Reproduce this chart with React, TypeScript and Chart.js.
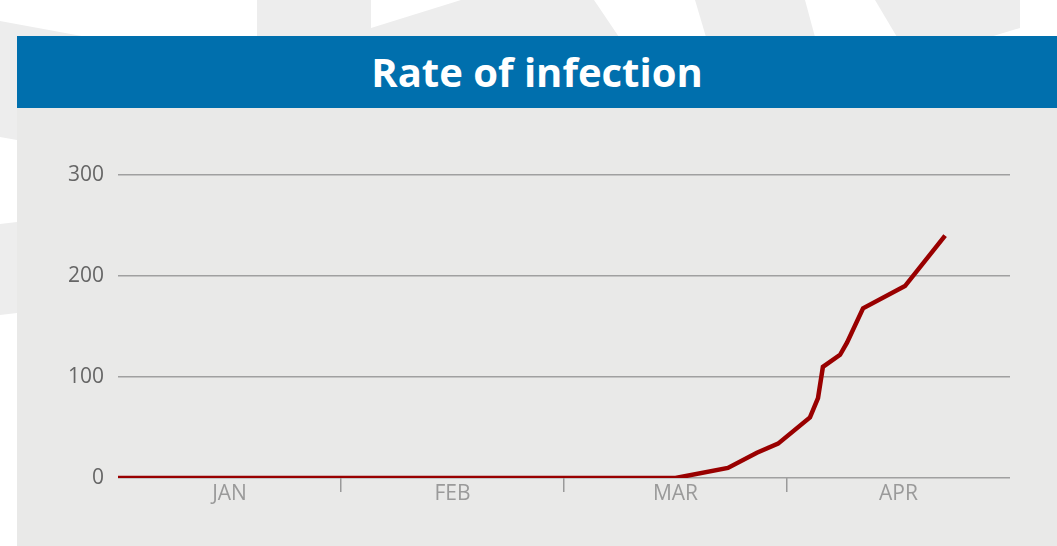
import React, { useEffect, useRef } from "react";
import { Chart, registerables } from "chart.js";

Chart.register(...registerables);

const title = "Rate of infection";
const months = ["JAN", "FEB", "MAR", "APR"];
const yTickValues = [0, 100, 200, 300];
// position along the time axis, in months from 1 January
const timePositions = [0, 2.5, 2.735, 2.865, 2.96, 3.103, 3.139, 3.161, 3.238, 3.269, 3.341, 3.529, 3.709];
const infections = [0, 0, 10, 25, 34, 60, 79, 110, 122, 134, 168, 190, 240];

const FONT = "'Open Sans', 'Noto Sans', sans-serif";

export default function App() {
  const canvasRef = useRef<HTMLCanvasElement | null>(null);

  useEffect(() => {
    const canvas = canvasRef.current;
    if (!canvas) return;
    const chart = new Chart(canvas, {
      type: "line",
      data: {
        labels: months,
        datasets: [
          {
            label: title,
            data: timePositions.map((x, i) => ({ x, y: infections[i] })),
            xAxisID: "xd",
            yAxisID: "y",
            borderColor: "#990000",
            borderWidth: 4.5,
            pointRadius: 0,
            tension: 0,
            fill: false,
          },
        ],
      },
      options: {
        animation: false,
        responsive: true,
        maintainAspectRatio: false,
        layout: { padding: { top: 67, right: 47, bottom: 0, left: 0 } },
        plugins: { legend: { display: false }, tooltip: { enabled: false }, title: { display: false } },
        scales: {
          x: {
            type: "category",
            labels: months,
            offset: true,
            position: "bottom",
            border: { display: false },
            grid: {
              offset: true,
              drawOnChartArea: false,
              drawTicks: true,
              tickLength: 14,
              lineWidth: 1.5,
              color: (ctx: any) =>
                ctx.type !== "tick" || ctx.index === 0 || ctx.index === undefined || ctx.index >= months.length
                  ? "rgba(0,0,0,0)"
                  : "#9a9a9a",
            },
            ticks: {
              color: "#9a9a9a",
              font: { family: FONT, size: 21 },
              padding: -11,
              maxRotation: 0,
            },
            afterFit: (axis: any) => {
              axis.height = 68;
            },
          },
          xd: {
            type: "linear",
            min: 0,
            max: months.length,
            display: false,
          },
          y: {
            type: "linear",
            min: yTickValues[0],
            max: yTickValues[yTickValues.length - 1],
            border: { display: false },
            afterBuildTicks: (axis: any) => {
              axis.ticks = yTickValues.map((v) => ({ value: v }));
            },
            grid: {
              drawTicks: false,
              color: "#a0a0a0",
              lineWidth: 1.5,
            },
            ticks: {
              color: "#666666",
              font: { family: FONT, size: 21 },
              padding: 14,
            },
            afterFit: (axis: any) => {
              axis.width = 101;
            },
          },
        },
      },
    });
    return () => chart.destroy();
  }, []);

  const wm = "#ededed";

  return (
    <div
      style={{
        position: "fixed",
        left: 0,
        top: 0,
        width: 1057,
        height: 546,
        overflow: "hidden",
        background: "#ffffff",
      }}
    >
      <svg width={1057} height={546} style={{ position: "absolute", left: 0, top: 0 }}>
        <polygon fill={wm} points="0,21 87,37 17,37 17,140 0,137" />
        <polygon fill={wm} points="0,224 17,222 17,313 0,315" />
        <polygon fill={wm} points="257,0 371,0 371,28 461,0 594,0 619,37 257,37" />
        <polygon fill={wm} points="695,0 805,0 815,37 706,37" />
        <polygon fill={wm} points="875,0 1020,0 1020,28 990,37 897,37" />
      </svg>
      <div
        style={{
          position: "absolute",
          left: 17,
          top: 36,
          width: 1040,
          height: 72,
          background: "#006fad",
          display: "flex",
          alignItems: "center",
          justifyContent: "center",
          color: "#ffffff",
          fontFamily: FONT,
          fontWeight: 700,
          fontSize: 40,
          lineHeight: "72px",
        }}
      >
        {title}
      </div>
      <div
        style={{
          position: "absolute",
          left: 17,
          top: 108,
          width: 1040,
          height: 438,
          background: "#e9e9e8",
        }}
      >
        <canvas ref={canvasRef} />
      </div>
    </div>
  );
}
